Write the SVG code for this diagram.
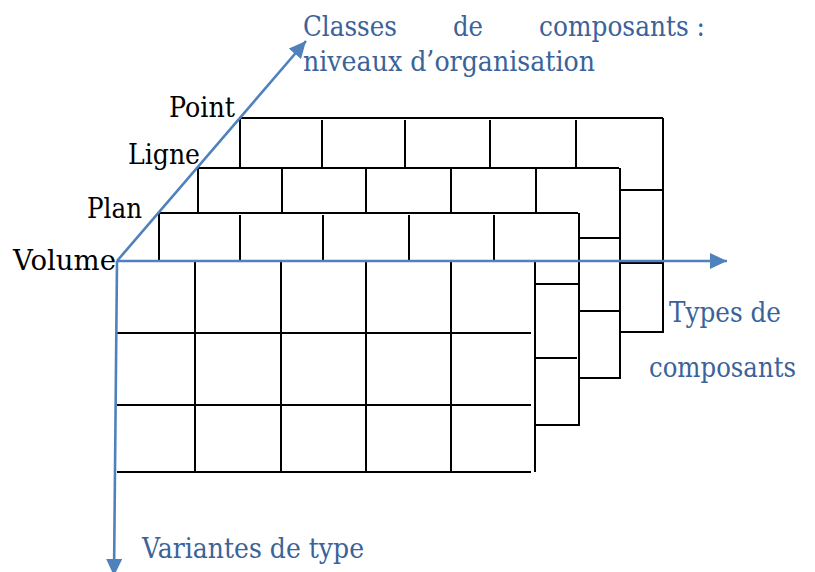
<svg xmlns="http://www.w3.org/2000/svg" width="815" height="572" viewBox="0 0 815 572">
<style>
.g line{stroke:#000;stroke-width:2;stroke-linecap:square}
.ax{stroke:#4f81bd;stroke-width:2.6;fill:none}
.lbl{fill:#000}
.blu{fill:#3a6399}
</style>
<defs>
<marker id="arr" markerUnits="userSpaceOnUse" markerWidth="18" markerHeight="16" viewBox="0 0 18 16" refX="17" refY="8" orient="auto">
<path d="M0,0 L17,8 L0,16 Z" fill="#4f81bd"/>
</marker>
</defs>
<rect width="815" height="572" fill="#fff"/>

<g id="layer-point" class="g">
<line x1="240" y1="118" x2="662" y2="118"/>
<line x1="240" y1="119" x2="240" y2="166"/>
<line x1="322" y1="121" x2="322" y2="166"/>
<line x1="405" y1="121" x2="405" y2="166"/>
<line x1="490" y1="121" x2="490" y2="166"/>
<line x1="576" y1="121" x2="576" y2="166"/>
<line x1="663" y1="119" x2="663" y2="332"/>
<line x1="621" y1="190" x2="662" y2="190"/>
<line x1="620" y1="263" x2="662" y2="263"/>
<line x1="621" y1="332" x2="662" y2="332"/>
</g>

<g id="layer-ligne" class="g">
<line x1="198" y1="168" x2="618" y2="168"/>
<line x1="198" y1="169" x2="198" y2="212"/>
<line x1="282" y1="169" x2="282" y2="212"/>
<line x1="366" y1="169" x2="366" y2="212"/>
<line x1="451" y1="169" x2="451" y2="212"/>
<line x1="536" y1="169" x2="536" y2="212"/>
<line x1="620" y1="169" x2="620" y2="378"/>
<line x1="580" y1="238" x2="619" y2="238"/>
<line x1="580" y1="311" x2="619" y2="311"/>
<line x1="580" y1="378" x2="619" y2="378"/>
</g>

<g id="layer-plan" class="g">
<line x1="160" y1="213" x2="577" y2="213"/>
<line x1="159" y1="214" x2="159" y2="259"/>
<line x1="240" y1="216" x2="240" y2="259"/>
<line x1="323" y1="216" x2="323" y2="259"/>
<line x1="409" y1="216" x2="409" y2="259"/>
<line x1="494" y1="216" x2="494" y2="259"/>
<line x1="579" y1="214" x2="579" y2="425"/>
<line x1="536" y1="284" x2="578" y2="284"/>
<line x1="535" y1="358" x2="576" y2="358"/>
<line x1="536" y1="425" x2="578" y2="425"/>
</g>

<g id="layer-volume" class="g">
<line x1="118" y1="333" x2="530" y2="333"/>
<line x1="118" y1="405" x2="530" y2="405"/>
<line x1="118" y1="472" x2="530" y2="472"/>
<line x1="195" y1="262" x2="195" y2="472"/>
<line x1="281" y1="262" x2="281" y2="472"/>
<line x1="366" y1="262" x2="366" y2="472"/>
<line x1="451" y1="262" x2="451" y2="472"/>
<line x1="535" y1="262" x2="535" y2="471"/>
</g>

<g id="connectors">
<line class="ax" x1="117" y1="261" x2="727" y2="261" marker-end="url(#arr)"/>
<line class="ax" x1="117" y1="261" x2="306" y2="41" marker-end="url(#arr)"/>
<line class="ax" x1="117" y1="261" x2="114" y2="576" marker-end="url(#arr)"/>
</g>

<g id="labels" font-family="DejaVu Serif, serif" font-size="28">
<text class="lbl" x="169" y="117" textLength="66" lengthAdjust="spacingAndGlyphs">Point</text>
<text class="lbl" x="128" y="164" textLength="72" lengthAdjust="spacingAndGlyphs">Ligne</text>
<text class="lbl" x="87" y="218" textLength="55" lengthAdjust="spacingAndGlyphs">Plan</text>
<text class="lbl" x="13" y="270" textLength="103" lengthAdjust="spacingAndGlyphs">Volume</text>
<text class="blu" x="303" y="36" textLength="94" lengthAdjust="spacingAndGlyphs">Classes</text>
<text class="blu" x="453" y="36" textLength="30" lengthAdjust="spacingAndGlyphs">de</text>
<text class="blu" x="539" y="36" textLength="166" lengthAdjust="spacingAndGlyphs">composants :</text>
<text class="blu" x="303" y="71" textLength="292" lengthAdjust="spacingAndGlyphs">niveaux d’organisation</text>
<text class="blu" x="669" y="322" textLength="112" lengthAdjust="spacingAndGlyphs">Types de</text>
<text class="blu" x="649" y="377" font-size="27" textLength="147" lengthAdjust="spacingAndGlyphs">composants</text>
<text class="blu" x="142" y="558" textLength="222" lengthAdjust="spacingAndGlyphs">Variantes de type</text>
</g>
</svg>
